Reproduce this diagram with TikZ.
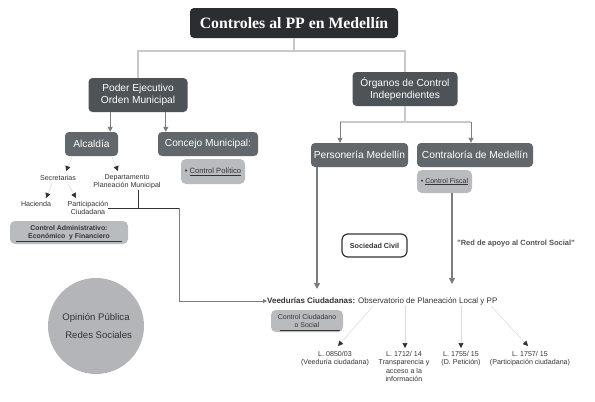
\documentclass[tikz,border=0pt]{standalone}
\usepackage{fontspec}
\setmainfont{Liberation Sans}
\newfontfamily\titlefont{Liberation Serif}
\usetikzlibrary{arrows.meta}
\definecolor{titlebg}{HTML}{2A2E30}
\definecolor{darkbox}{HTML}{4E5357}
\definecolor{midbox}{HTML}{61676B}
\definecolor{lightbox}{HTML}{B9BCBF}
\definecolor{circbg}{HTML}{B3B5B8}
\definecolor{linegray}{HTML}{C9C9C9}
\definecolor{midline}{HTML}{7A7E82}
\definecolor{faint}{HTML}{DDDDDD}
\definecolor{txtgray}{HTML}{333333}
\begin{document}
\begin{tikzpicture}[x=1pt,y=-1pt,
  box/.style={rounded corners=4pt, text=white, align=center, inner sep=0pt, font=\fontsize{10.2}{12.2}\selectfont},
  bigbox/.style={box, fill=darkbox},
  subbox/.style={box, fill=midbox},
  lightb/.style={rounded corners=5pt, fill=lightbox, align=center, inner sep=0pt, text=txtgray, font=\fontsize{7}{8}\selectfont},
  small/.style={align=center, inner sep=0pt, text=txtgray, font=\fontsize{7.1}{8.4}\selectfont},
  treeline/.style={draw=linegray, line width=1.5pt},
  arr/.style={-{Triangle[length=5pt,width=5pt]}, color=midline, line width=0.8pt},
  farr/.style={-{Triangle[length=5pt,width=5pt,color=txtgray]}, draw=faint, line width=0.6pt},
  vline/.style={draw=midline, line width=1.3pt},
]
\useasboundingbox[fill=white] (0,0) rectangle (595,402);

% title
\node[box, fill=titlebg, minimum width=208pt, minimum height=30pt, font=\titlefont\bfseries\fontsize{15.8}{18}\selectfont] (title) at (294,23) {Controles al PP en Medellín};

% main level
\node[bigbox, minimum width=99pt, minimum height=34pt] (poder) at (138,95) {Poder Ejecutivo\\Orden Municipal};
\node[bigbox, minimum width=105pt, minimum height=34pt] (organos) at (405,89) {Órganos de Control\\Independientes};

\coordinate (tj) at (294,51);
\draw[treeline] (title.south) -- (tj);
\draw[treeline] (tj) -| (poder.north);
\draw[treeline] (tj) -| (organos.north);

% second level left
\node[subbox, minimum width=53pt, minimum height=24pt] (alcaldia) at (91.5,144) {Alcaldía};
\node[subbox, minimum width=100pt, minimum height=24pt] (concejo) at (208,144) {Concejo Municipal:};
\draw[arr] (poder.south -| alcaldia.north east) ++(-8,0) coordinate (pa) -- (pa |- alcaldia.north);
\draw[arr] (poder.south -| concejo.north west) ++(8,0) coordinate (pc) -- (pc |- concejo.north);

\node[lightb, minimum width=64pt, minimum height=25pt, font=\fontsize{7.6}{8.6}\selectfont] (cpol) at (213,171.5) {\textbullet\ \underline{Control Político}};

% second level right
\node[subbox, minimum width=97pt, minimum height=24pt] (personeria) at (359.5,155) {Personería Medellín};
\node[subbox, minimum width=116pt, minimum height=24pt] (contraloria) at (475,155) {Contraloría de Medellín};
\coordinate (oj) at (405,122);
\coordinate (ojl) at (340,122);
\coordinate (ojr) at (471,122);
\draw[draw=linegray, line width=1.2pt] (organos.south) -- (oj);
\draw[draw=linegray, line width=1.2pt] (ojl) -- (ojr);
\draw[arr] (ojl) -- (ojl |- personeria.north);
\draw[arr] (ojr) -- (ojr |- contraloria.north);

\node[lightb, minimum width=55pt, minimum height=23pt] (cfiscal) at (444.5,181.5) {\textbullet\ \underline{Control Fiscal}};

% Alcaldia sub items
\node[small] (secre) at (58,178) {Secretarias};
\node[small] (depto) at (127,182) {Departamento\\Planeación Municipal};
\node[small] (hacienda) at (36,204) {Hacienda};
\node[small] (partic) at (88,208) {Participación\\Ciudadana};
\draw[farr] (72,157) -- (66,171);
\draw[farr] (112,157) -- (118,171);
\draw[farr] (52,184) -- (46,198);
\draw[farr] (68,184) -- (76,198);

\node[lightb, minimum width=118pt, minimum height=23pt, font=\bfseries\fontsize{6.9}{7.6}\selectfont] (cadmin) at (69,232.5) {Control Administrativo:\\Económico\ \ y Financiero};
\draw[draw=txtgray, line width=1pt] (16,241.5) -- (122,241.5);

% Veedurias
\node[anchor=west, inner sep=0pt, text=txtgray, font=\fontsize{8}{9}\selectfont] (veed) at (267,301) {\textbf{Veedurías Ciudadanas:} Observatorio de Planeación Local y PP};
\node[lightb, minimum width=72pt, minimum height=22pt] (cciud) at (307,321) {Control Ciudadano\\o Social};
\draw[draw=txtgray, line width=1pt] (280,330) -- (340,330);

\coordinate (dj) at (138,208);
\coordinate (pj) at (108,208);
\coordinate (corner) at (179,208);
\draw[draw=txtgray, line width=0.8pt] (depto.south -| dj) -- (dj);
\draw[draw=txtgray, line width=0.8pt] (pj) -- (corner);
\draw[draw=midline, line width=1pt, -{Triangle[length=4pt,width=4pt]}] (corner) |- (veed.west);

\draw[vline, -{Triangle[length=6pt,width=6pt]}] (personeria.south -| 317,0) -- (317,289);
\draw[vline, -{Triangle[length=6pt,width=6pt]}] (cfiscal.south -| 452,0) -- (452,284);

\node[rounded corners=6pt, draw=txtgray, line width=1.2pt, fill=white, minimum width=65pt, minimum height=23pt, inner sep=0pt, text=txtgray, font=\bfseries\fontsize{7.2}{8}\selectfont] (sociedad) at (374.5,245.5) {Sociedad Civil};
\node[inner sep=0pt, text=txtgray!85, font=\bfseries\fontsize{7.5}{8}\selectfont] (red) at (516,244) {"Red de apoyo al Control Social"};

% circle
\node[circle, fill=circbg, minimum size=96pt, inner sep=0pt, align=center, text=txtgray, font=\fontsize{9.6}{18}\selectfont] (opinion) at (96,326) {Opinión Pública\\\ \ Redes Sociales};

% laws
\node[small, anchor=north] (l1) at (335,351) {L. 0850/03\\(Veeduría ciudadana)};
\node[small, anchor=north] (l2) at (404,351) {L. 1712/ 14\\Transparencia y\\acceso a la\\información};
\node[small, anchor=north] (l3) at (461,351) {L. 1755/ 15\\(D. Petición)};
\node[small, anchor=north] (l4) at (530,351) {L. 1757/ 15\\(Participación ciudadana)};
\draw[farr] (373,306) -- (338,346);
\draw[farr] (405,306) -- (405,348);
\draw[farr] (461,306) -- (461,348);
\draw[farr] (491,306) -- (528,346);
\end{tikzpicture}
\end{document}
